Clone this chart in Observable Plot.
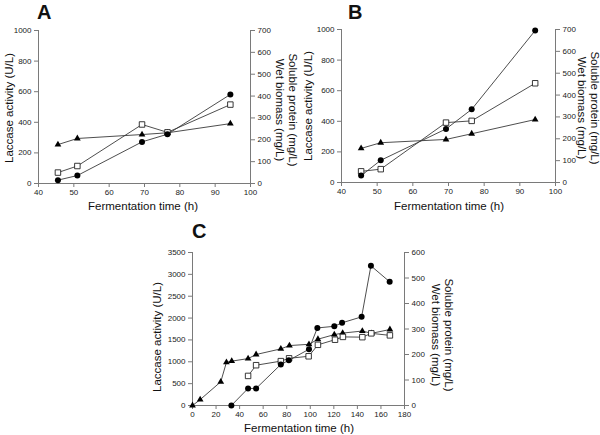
<!DOCTYPE html>
<html>
<head>
<meta charset="utf-8">
<script src="https://cdn.jsdelivr.net/npm/d3@7"></script>
<script src="https://cdn.jsdelivr.net/npm/@observablehq/plot@0.6"></script>
<style>
  html, body { margin: 0; padding: 0; background: #fff; }
  #fig { position: relative; width: 600px; height: 435px; overflow: hidden; font-family: "Liberation Sans", Arial, sans-serif; color: #111; }
  .svgwrap { position: absolute; }
  .lbl { position: absolute; white-space: nowrap; font-size: 11.5px; line-height: 12.5px; }
  .panel { position: absolute; font-size: 20px; font-weight: bold; line-height: 1; }
  .rotL { transform: translate(-50%, -50%) rotate(-90deg); }
  .rotR { transform: translate(-50%, -50%) rotate(90deg); text-align: center; }
  .ctr { transform: translate(-50%, -50%); }
</style>
</head>
<body>
<div id="fig"></div>
<script>
// ---- Data ----
// Panel A
const timeA = [45.5, 51, 69.3, 76.5, 94.3];
const laccaseA = [22, 52, 272, 322, 582];          // U/L (left axis), filled circles
const proteinA = [50, 80, 270, 234, 361];          // mg/L (right axis), open squares
const biomassA = [178, 206, 224, 232, 274];        // mg/L (right axis), filled triangles
// Panel B
const timeB = [45.5, 51, 69.3, 76.5, 94.3];
const laccaseB = [45, 145, 350, 478, 993];
const proteinB = [51, 61, 274, 282, 454];
const biomassB = [156, 182, 197, 223, 288];
// Panel C
const timeLacC = [33, 47.2, 54, 75, 81.8, 98.9, 106, 120.4, 127, 143.6, 151.5, 167.4];
const laccaseC = [0, 390, 390, 939, 1033, 1287, 1774, 1812, 1892, 2028, 3195, 2830];
const timeProtC = [47.2, 54, 75, 82, 98.6, 106.5, 121, 127.7, 144.2, 151.8, 167.6];
const proteinC = [116, 158, 174, 185, 193, 238, 258, 269, 268, 283, 275];
const timeBioC = [0, 6.5, 24, 28.8, 33.3, 47.2, 54, 75, 82.3, 98.9, 106.5, 120.4, 127.5, 144.2, 152, 167.6];
const biomassC = [0, 23, 93, 169, 174, 184, 200, 222, 235, 240, 260, 278, 284, 292, 283, 298];

// Axis ticks
const xTicksAB = [40, 50, 60, 70, 80, 90, 100];
const yTicksAB = [0, 200, 400, 600, 800, 1000];
const rTicksAB = [0, 100, 200, 300, 400, 500, 600, 700];
const xTicksC = [0, 20, 40, 60, 80, 100, 120, 140, 160, 180];
const yTicksC = [0, 500, 1000, 1500, 2000, 2500, 3000, 3500];
const rTicksC = [0, 100, 200, 300, 400, 500, 600];

// Labels
const yLabel = "Laccase activity (U/L)";
const rLabel1 = "Soluble protein (mg/L)";
const rLabel2 = "Wet biomass (mg/L)";
const xLabel = "Fermentation time (h)";

const fig = document.getElementById("fig");
const axisColor = "#7a7a7a";
const lineColor = "#3a3a3a";

function zip(xs, ys) { return xs.map((x, i) => ({x, y: ys[i]})); }

function panel(o) {
  const k = o.yMax / o.rMax;
  const lac = zip(o.tLac, o.lac);
  const prot = zip(o.tProt, o.prot).map(d => ({x: d.x, y: d.y * k}));
  const bio = zip(o.tBio, o.bio).map(d => ({x: d.x, y: d.y * k}));
  const p = Plot.plot({
    width: o.w, height: o.h,
    marginLeft: o.mL, marginRight: o.mR, marginTop: o.mT, marginBottom: o.mB,
    style: {fontFamily: '"Liberation Sans", Arial, sans-serif', fontSize: "8px", background: "transparent", overflow: "visible", color: "#222"},
    x: {domain: o.xDomain, label: null},
    y: {domain: [0, o.yMax], label: null},
    marks: [
      Plot.ruleY([0], {stroke: axisColor, strokeWidth: 1}),
      Plot.ruleX([o.xDomain[0]], {stroke: axisColor, strokeWidth: 1}),
      Plot.ruleX([o.xDomain[1]], {stroke: axisColor, strokeWidth: 1}),
      Plot.axisX({ticks: o.xTicks, tickSize: 4, tickPadding: 2, stroke: axisColor, fill: "#222", label: null, tickFormat: d => String(d)}),
      Plot.axisY({ticks: o.yTicks, tickSize: 4, tickPadding: 3, stroke: axisColor, fill: "#222", label: null, tickFormat: d => String(d)}),
      Plot.axisY({anchor: "right", ticks: o.rTicks.map(v => v * k), tickSize: 4, tickPadding: 3, stroke: axisColor, fill: "#222", label: null, tickFormat: d => String(Math.round(d / k))}),
      Plot.line(bio, {x: "x", y: "y", stroke: lineColor, strokeWidth: 0.9}),
      Plot.line(prot, {x: "x", y: "y", stroke: lineColor, strokeWidth: 0.9}),
      Plot.line(lac, {x: "x", y: "y", stroke: lineColor, strokeWidth: 0.9}),
      Plot.dot(bio, {x: "x", y: "y", symbol: "triangle", fill: "#000", r: 2.5}),
      Plot.dot(prot, {x: "x", y: "y", symbol: "square", fill: "#fff", stroke: "#222", strokeWidth: 0.9, r: 3.1}),
      Plot.dot(lac, {x: "x", y: "y", symbol: "circle", fill: "#000", r: 3})
    ]
  });
  const wrap = document.createElement("div");
  wrap.className = "svgwrap";
  wrap.style.left = o.left + "px";
  wrap.style.top = o.top + "px";
  wrap.appendChild(p);
  fig.appendChild(wrap);

  const addDiv = (cls, html, x, y) => {
    const d = document.createElement("div");
    d.className = cls;
    d.innerHTML = html;
    d.style.left = x + "px";
    d.style.top = y + "px";
    fig.appendChild(d);
  };
  addDiv("panel", o.name, o.nameX, o.nameY);
  addDiv("lbl rotL", yLabel, o.yLabX, o.yLabY);
  addDiv("lbl rotR", rLabel1 + "<br>" + rLabel2, o.rLabX, o.rLabY);
  addDiv("lbl ctr", xLabel, o.xLabX, o.xLabY);
}

panel({
  name: "A", nameX: 37, nameY: 2,
  left: 0, top: 0, w: 300, h: 215, mL: 38, mR: 50, mT: 30, mB: 32,
  xDomain: [40, 100], xTicks: xTicksAB, yMax: 1000, yTicks: yTicksAB, rMax: 700, rTicks: rTicksAB,
  tLac: timeA, lac: laccaseA, tProt: timeA, prot: proteinA, tBio: timeA, bio: biomassA,
  yLabX: 9, yLabY: 108, rLabX: 286, rLabY: 110, xLabX: 143, xLabY: 206
});
panel({
  name: "B", nameX: 348, nameY: 2,
  left: 300, top: 0, w: 300, h: 215, mL: 41, mR: 45, mT: 29, mB: 33,
  xDomain: [40, 100], xTicks: xTicksAB, yMax: 1000, yTicks: yTicksAB, rMax: 700, rTicks: rTicksAB,
  tLac: timeB, lac: laccaseB, tProt: timeB, prot: proteinB, tBio: timeB, bio: biomassB,
  yLabX: 308, yLabY: 106, rLabX: 588, rLabY: 108, xLabX: 449, xLabY: 206
});
panel({
  name: "C", nameX: 192, nameY: 221,
  left: 130, top: 210, w: 320, h: 225, mL: 62, mR: 46, mT: 42, mB: 30,
  xDomain: [0, 180], xTicks: xTicksC, yMax: 3500, yTicks: yTicksC, rMax: 600, rTicks: rTicksC,
  tLac: timeLacC, lac: laccaseC, tProt: timeProtC, prot: proteinC, tBio: timeBioC, bio: biomassC,
  yLabX: 157, yLabY: 337, rLabX: 442, rLabY: 335, xLabX: 299, xLabY: 428
});
</script>
</body>
</html>
